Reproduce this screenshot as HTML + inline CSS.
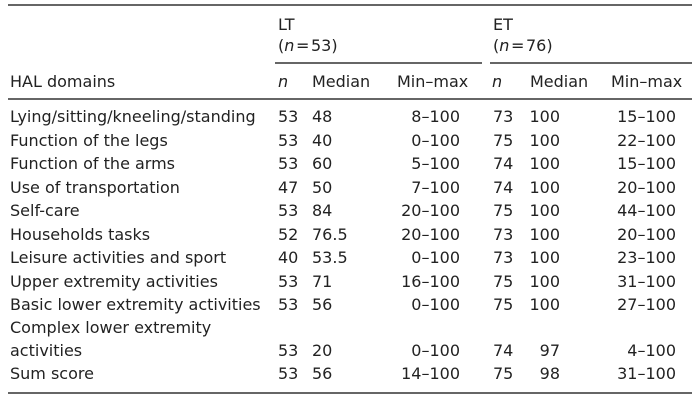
<!DOCTYPE html>
<html><head><meta charset="utf-8"><style>
body{margin:0;background:#fff;}
#c{position:relative;width:700px;height:400px;background:#fff;font-family:"DejaVu Sans","Liberation Sans",sans-serif;font-size:16px;color:#222;}
.t{position:absolute;line-height:20px;white-space:nowrap;}
.r{text-align:right;}
.l{position:absolute;background:#666;}
i{font-style:italic;}
</style></head><body><div id="c">
<div class="l" style="left:8px;top:4px;width:684px;height:2px"></div>
<div class="l" style="left:275px;top:62px;width:207px;height:2px"></div>
<div class="l" style="left:490px;top:62px;width:202px;height:2px"></div>
<div class="l" style="left:8px;top:98px;width:684px;height:2px"></div>
<div class="l" style="left:8px;top:392px;width:684px;height:2px"></div>

<div class="t" style="left:278px;top:15px">LT</div>
<div class="t" style="left:278px;top:36px">(<i>n</i>&#8202;=&#8202;53)</div>
<div class="t" style="left:493px;top:15px">ET</div>
<div class="t" style="left:493px;top:36px">(<i>n</i>&#8202;=&#8202;76)</div>

<div class="t" style="left:10px;top:72px">HAL domains</div>
<div class="t" style="left:278px;top:72px"><i>n</i></div>
<div class="t" style="left:312px;top:72px">Median</div>
<div class="t" style="left:397px;top:72px">Min–max</div>
<div class="t" style="left:492px;top:72px"><i>n</i></div>
<div class="t" style="left:530px;top:72px">Median</div>
<div class="t" style="left:611px;top:72px">Min–max</div>

<div id="rows"></div>
<script>
var d=[
["Lying/sitting/kneeling/standing",117,"53","48","8–100","73","100","15–100"],
["Function of the legs",141,"53","40","0–100","75","100","22–100"],
["Function of the arms",164,"53","60","5–100","74","100","15–100"],
["Use of transportation",188,"47","50","7–100","74","100","20–100"],
["Self-care",211,"53","84","20–100","75","100","44–100"],
["Households tasks",235,"52","76.5","20–100","73","100","20–100"],
["Leisure activities and sport",258,"40","53.5","0–100","73","100","23–100"],
["Upper extremity activities",282,"53","71","16–100","75","100","31–100"],
["Basic lower extremity activities",305,"53","56","0–100","75","100","27–100"],
["activities",351,"53","20","0–100","74","97","4–100"],
["Sum score",374,"53","56","14–100","75","98","31–100"]];
var h="";
d.forEach(function(r){var t=r[1]-10;
h+='<div class="t" style="left:10px;top:'+t+'px">'+r[0]+'</div>';
h+='<div class="t" style="left:278px;top:'+t+'px">'+r[2]+'</div>';
h+='<div class="t" style="left:312px;top:'+t+'px">'+r[3]+'</div>';
h+='<div class="t r" style="left:380px;width:80px;top:'+t+'px">'+r[4]+'</div>';
h+='<div class="t" style="left:493px;top:'+t+'px">'+r[5]+'</div>';
h+='<div class="t r" style="left:500px;width:60px;top:'+t+'px">'+r[6]+'</div>';
h+='<div class="t r" style="left:595px;width:81px;top:'+t+'px">'+r[7]+'</div>';});
h+='<div class="t" style="left:10px;top:318px">Complex lower extremity</div>';
document.getElementById("rows").innerHTML=h;
</script>
</div></body></html>
